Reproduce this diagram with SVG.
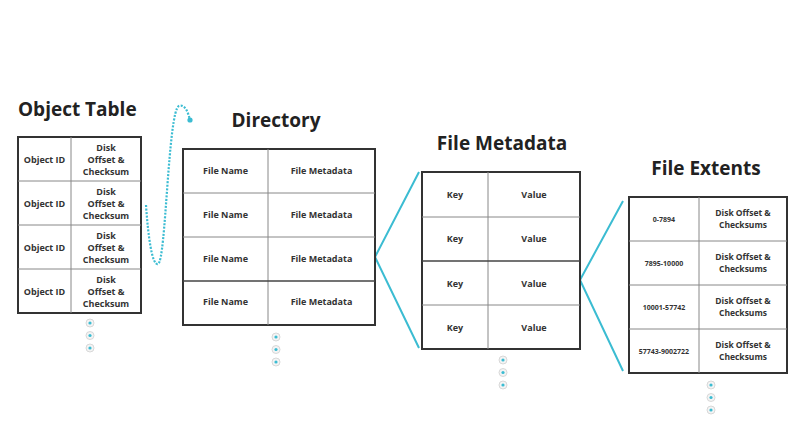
<svg xmlns="http://www.w3.org/2000/svg" width="797" height="447" viewBox="0 0 797 447">
<defs>
<style>
.title{font-family:"Open Sans","Noto Sans",sans-serif;font-weight:700;font-size:19px;fill:#222}
.cell{font-family:"Open Sans","Noto Sans",sans-serif;font-weight:700;font-size:9px;fill:#333;text-anchor:middle}
.ext{font-size:8.5px}
.small{font-size:7px}
.outer{fill:#fff;stroke:#333;stroke-width:2}
.inner{stroke:#888;stroke-width:1;fill:none}
.conn{stroke:#3bbcd2;stroke-width:2;fill:none}
.dot-o{fill:#f4f4f4;stroke:#d8d8d8;stroke-width:1}
.dot-i{fill:#3bbcd2}
</style>
<g id="dot">
<circle class="dot-o" r="4"/>
<circle class="dot-i" r="1.6"/>
</g>
</defs>
<rect width="797" height="447" fill="#fff"/>

<g id="connectors">
<path d="M146,205 C148,235 152,266 158,264 C166,262 168,110 179,106 C185,104 188,112 190,120" stroke="#3bbcd2" stroke-width="2.2" stroke-dasharray="2,1.5" fill="none"/>
<circle cx="190" cy="120" r="2.6" fill="#3bbcd2"/>
<path class="conn" d="M419,172 L375,257 L419,348"/>
<path class="conn" d="M623,201 L580,280 L623,371"/>
</g>

<g id="object-table">
<text class="title" x="18" y="116">Object Table</text>
<rect class="outer" x="18" y="137" width="123" height="176"/>
<path class="inner" d="M71,137V313M18,181H141M18,225H141M18,269H141"/>
<text class="cell" x="44.5" y="163">Object ID</text>
<text class="cell" x="106" y="151">Disk</text><text class="cell" x="106" y="163">Offset &amp;</text><text class="cell" x="106" y="175">Checksum</text>
<text class="cell" x="44.5" y="207">Object ID</text>
<text class="cell" x="106" y="195">Disk</text><text class="cell" x="106" y="207">Offset &amp;</text><text class="cell" x="106" y="219">Checksum</text>
<text class="cell" x="44.5" y="251">Object ID</text>
<text class="cell" x="106" y="239">Disk</text><text class="cell" x="106" y="251">Offset &amp;</text><text class="cell" x="106" y="263">Checksum</text>
<text class="cell" x="44.5" y="295">Object ID</text>
<text class="cell" x="106" y="283">Disk</text><text class="cell" x="106" y="295">Offset &amp;</text><text class="cell" x="106" y="307">Checksum</text>
<use href="#dot" x="90" y="323"/><use href="#dot" x="90" y="335.5"/><use href="#dot" x="90" y="348"/>
</g>

<g id="directory">
<text class="title" x="276" y="127" text-anchor="middle">Directory</text>
<rect class="outer" x="183" y="149" width="192" height="176"/>
<path class="inner" d="M268,149V325M183,193H375M183,237H375"/>
<path d="M183,281H375" stroke="#444" stroke-width="1.6"/>
<text class="cell" x="225.5" y="174">File Name</text><text class="cell" x="321.5" y="174">File Metadata</text>
<text class="cell" x="225.5" y="218">File Name</text><text class="cell" x="321.5" y="218">File Metadata</text>
<text class="cell" x="225.5" y="262">File Name</text><text class="cell" x="321.5" y="262">File Metadata</text>
<text class="cell" x="225.5" y="305">File Name</text><text class="cell" x="321.5" y="305">File Metadata</text>
<use href="#dot" x="276" y="337"/><use href="#dot" x="276" y="349.5"/><use href="#dot" x="276" y="362"/>
</g>

<g id="file-metadata">
<text class="title" x="502" y="150" text-anchor="middle">File Metadata</text>
<rect class="outer" x="422" y="172" width="158" height="177"/>
<path class="inner" d="M488,172V349M422,217H580M422,305H580"/>
<path d="M422,261H580" stroke="#444" stroke-width="1.6"/>
<text class="cell" x="455" y="198">Key</text><text class="cell" x="534" y="198">Value</text>
<text class="cell" x="455" y="242">Key</text><text class="cell" x="534" y="242">Value</text>
<text class="cell" x="455" y="287">Key</text><text class="cell" x="534" y="287">Value</text>
<text class="cell" x="455" y="331">Key</text><text class="cell" x="534" y="331">Value</text>
<use href="#dot" x="503" y="360"/><use href="#dot" x="503" y="372.5"/><use href="#dot" x="503" y="385"/>
</g>

<g id="file-extents">
<text class="title" x="706" y="175" text-anchor="middle">File Extents</text>
<rect class="outer" x="629" y="197" width="158" height="176"/>
<path class="inner" d="M699,197V373M629,241H787M629,285H787M629,329H787"/>
<text class="cell small" x="664" y="222">0-7894</text>
<text class="cell ext" x="743" y="215.5">Disk Offset &amp;</text><text class="cell ext" x="743" y="227.5">Checksums</text>
<text class="cell small" x="664" y="266">7895-10000</text>
<text class="cell ext" x="743" y="259.5">Disk Offset &amp;</text><text class="cell ext" x="743" y="271.5">Checksums</text>
<text class="cell small" x="664" y="310">10001-57742</text>
<text class="cell ext" x="743" y="303.5">Disk Offset &amp;</text><text class="cell ext" x="743" y="315.5">Checksums</text>
<text class="cell small" x="664" y="354">57743-9002722</text>
<text class="cell ext" x="743" y="347.5">Disk Offset &amp;</text><text class="cell ext" x="743" y="359.5">Checksums</text>
<use href="#dot" x="711" y="385"/><use href="#dot" x="711" y="397.5"/><use href="#dot" x="711" y="410"/>
</g>
</svg>
